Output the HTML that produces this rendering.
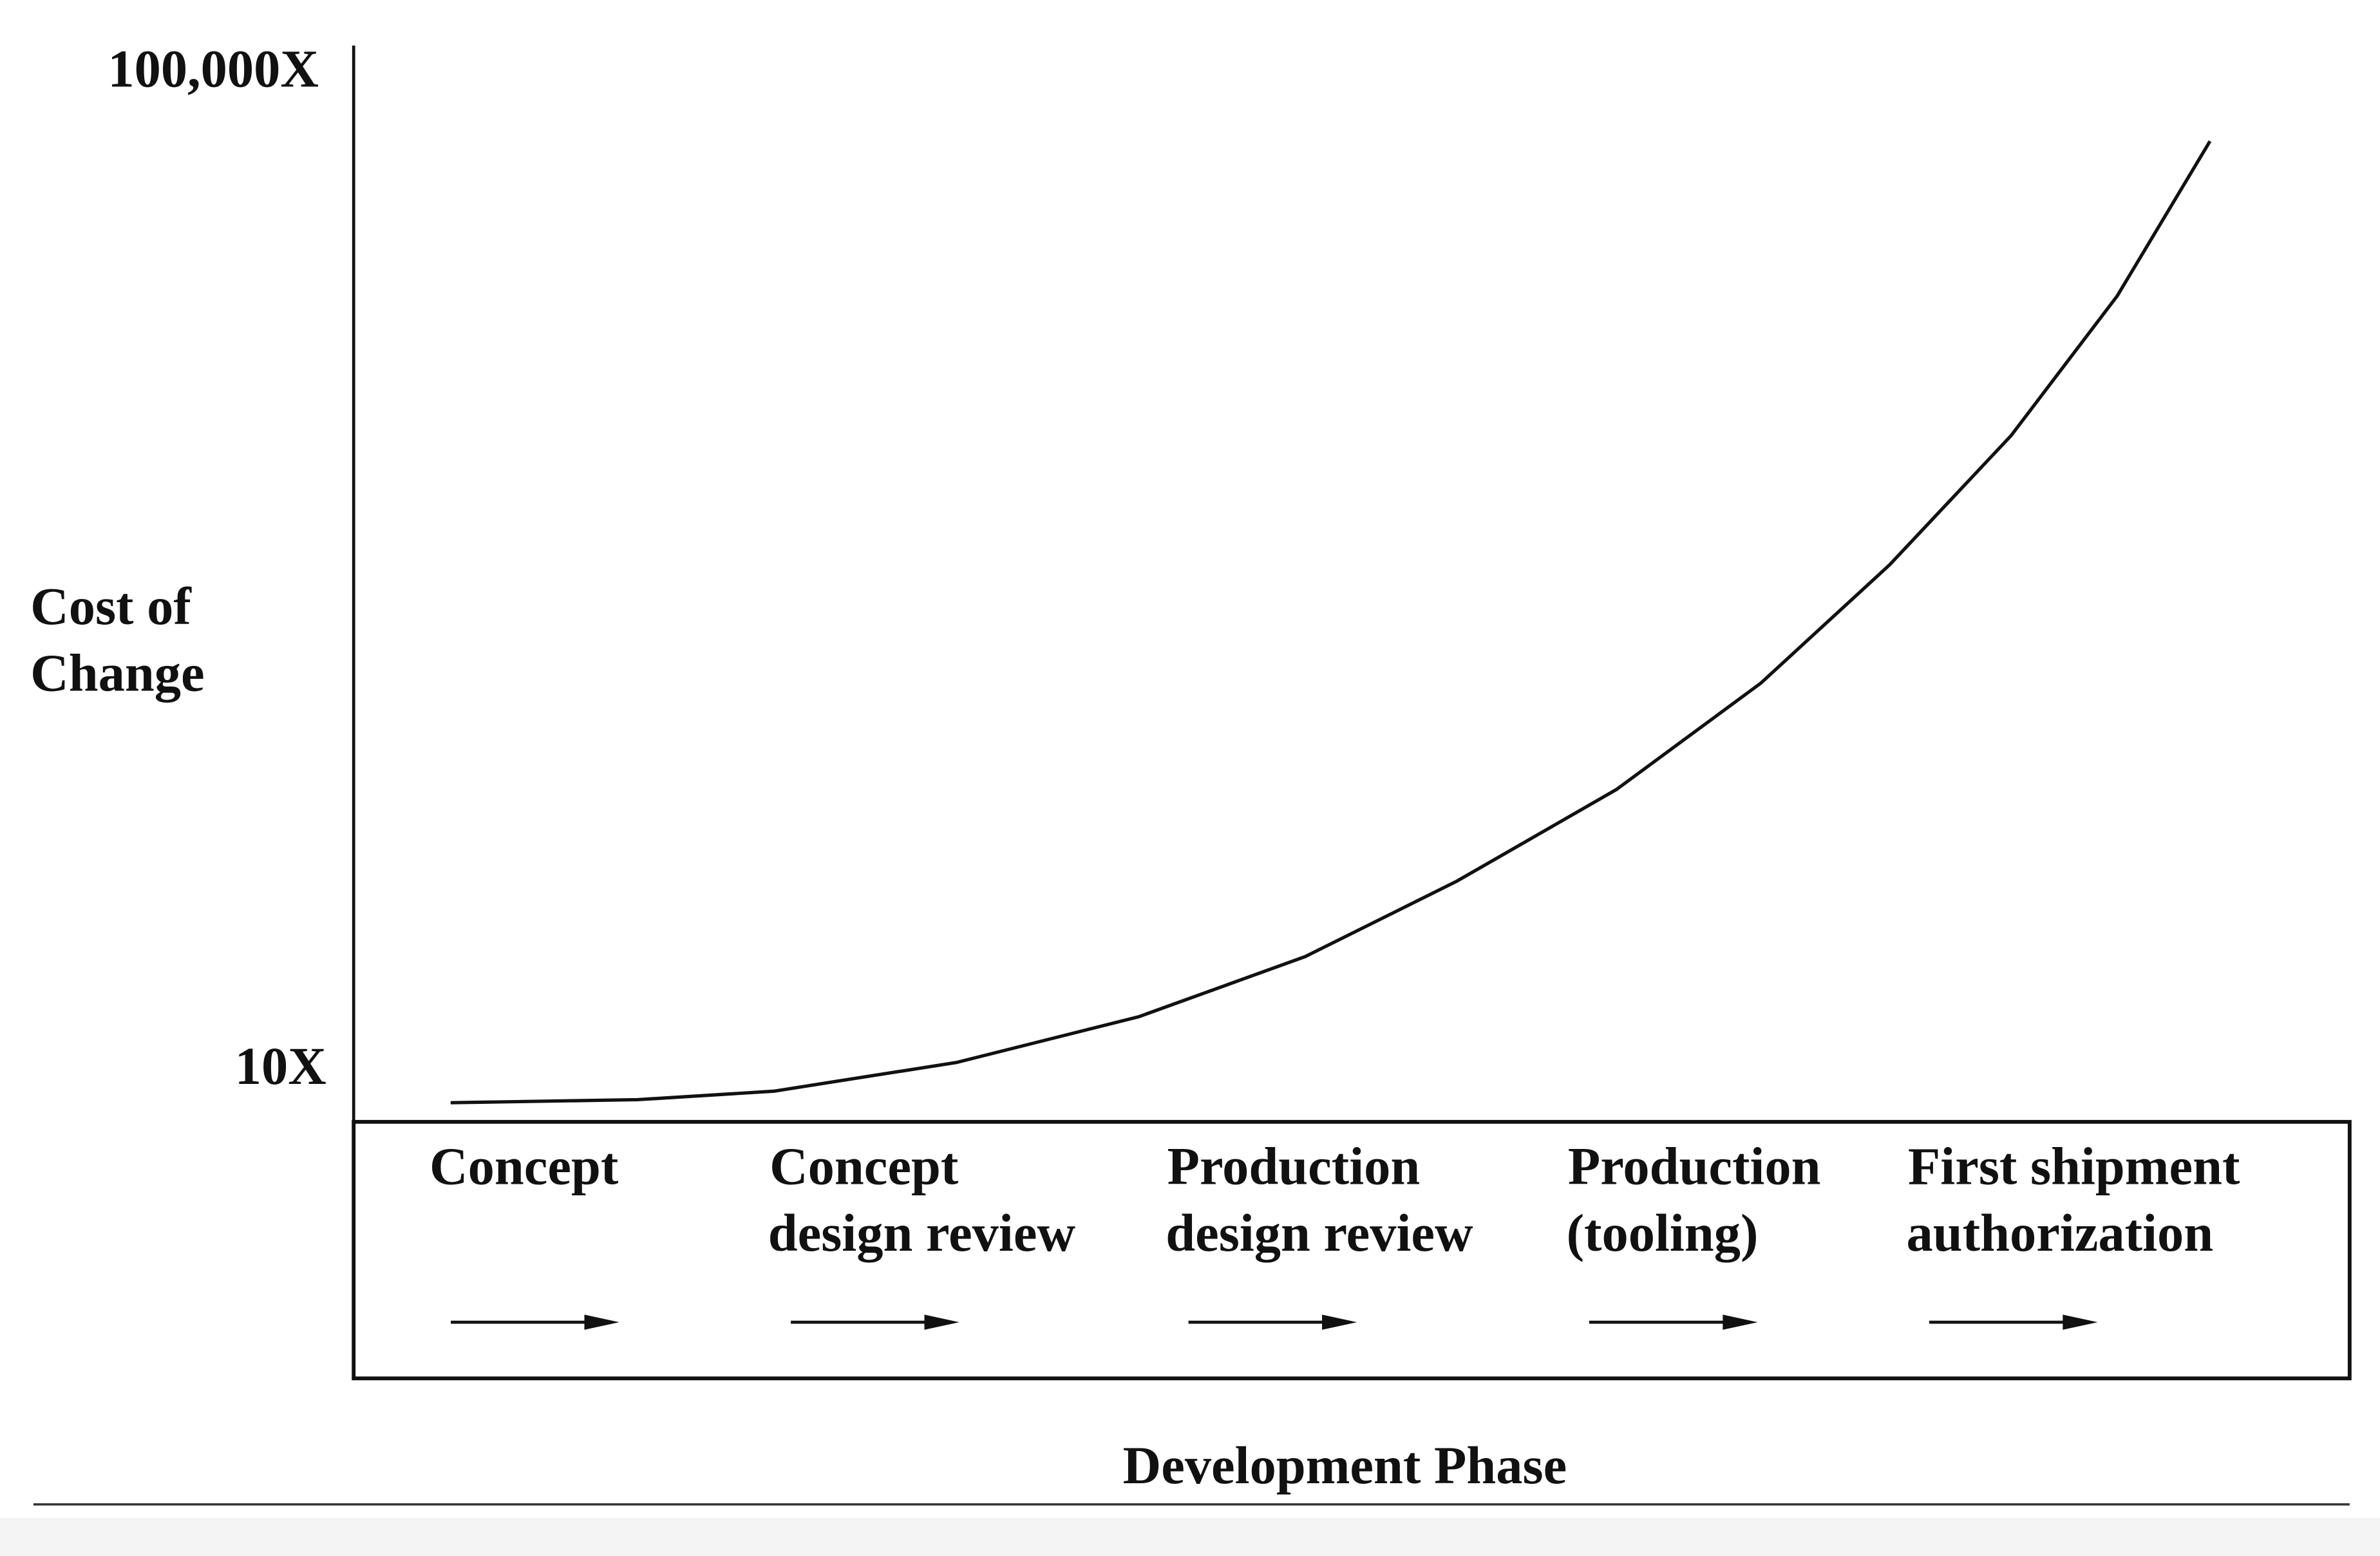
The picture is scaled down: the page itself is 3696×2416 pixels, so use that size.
<!DOCTYPE html>
<html><head><meta charset="utf-8"><style>
html,body{margin:0;padding:0;background:#fff;}
svg{display:block;}
text{font-family:"Liberation Serif",serif;font-weight:bold;fill:#111;}
</style></head><body>
<svg id="chart" width="3696" height="2416" viewBox="0 0 1568 1025" preserveAspectRatio="none" xmlns="http://www.w3.org/2000/svg">
<rect x="0" y="0" width="1568" height="1025" fill="#fff"/>
<rect x="0" y="1000" width="1568" height="25" fill="#f4f4f4"/>
<line x1="233" y1="30" x2="233" y2="739" stroke="#111" stroke-width="2"/>
<rect x="233" y="739" width="1315" height="169" fill="none" stroke="#111" stroke-width="2.5"/>
<line x1="22" y1="991" x2="1548" y2="991" stroke="#333" stroke-width="1.5"/>
<text x="210" y="57" text-anchor="end" font-size="35">100,000X</text>
<text x="215" y="714" text-anchor="end" font-size="35">10X</text>
<text x="20" y="411" font-size="35">Cost of</text>
<text x="20" y="455" font-size="35">Change</text>
<text x="886" y="977" text-anchor="middle" font-size="35">Development Phase</text>
<g id="phases"></g>
<path id="curve" fill="none" stroke="#111" stroke-width="2.2"/>
</svg>
<script>
const phaseLine1 = ["Concept","Concept","Production","Production","First shipment"];
const phaseLine2 = ["","design review","design review","(tooling)","authorization"];
const phaseProgress = [0.243,0.711,1.053,1.51,1.966,2.384,2.764,3.163,3.525,3.848,4.152,4.418,4.65];
const costValues = [7.1,7.3,7.9,10.3,15.7,27.4,55,128,342,1021,3365,12220,51050];

const xS = p => 233 + p * 263;
const yS = v => 702 - (Math.log10(v) - 1) / 4 * 657;
const NS = "http://www.w3.org/2000/svg";

let d = "";
for (let i = 0; i < phaseProgress.length; i++) {
  d += (i ? " L" : "M") + xS(phaseProgress[i]).toFixed(1) + " " + yS(costValues[i]).toFixed(1);
}
document.getElementById("curve").setAttribute("d", d);

const g = document.getElementById("phases");
const labelX = [283,507,769,1033,1257];
for (let i = 0; i < phaseLine1.length; i++) {
  const t1 = document.createElementNS(NS, "text");
  t1.setAttribute("x", labelX[i]); t1.setAttribute("y", 780); t1.setAttribute("font-size", "35");
  t1.textContent = phaseLine1[i];
  
  
  g.appendChild(t1);
  if (phaseLine2[i]) {
    const t2 = document.createElementNS(NS, "text");
    t2.setAttribute("x", labelX[i] - 1); t2.setAttribute("y", 824); t2.setAttribute("font-size", "35");
    t2.textContent = phaseLine2[i];
    
    
    g.appendChild(t2);
  }
  const ax = labelX[i] + 14;
  const ar = document.createElementNS(NS, "g");
  
  
  const ln = document.createElementNS(NS, "line");
  ln.setAttribute("x1", ax); ln.setAttribute("y1", 871); ln.setAttribute("x2", ax + 95); ln.setAttribute("y2", 871);
  ln.setAttribute("stroke", "#111"); ln.setAttribute("stroke-width", "2");
  ar.appendChild(ln);
  const hd = document.createElementNS(NS, "polygon");
  hd.setAttribute("points", (ax+88)+",866 "+(ax+111)+",871 "+(ax+88)+",876");
  hd.setAttribute("fill", "#111");
  ar.appendChild(hd);
  g.appendChild(ar);
}
</script>
</body></html>
